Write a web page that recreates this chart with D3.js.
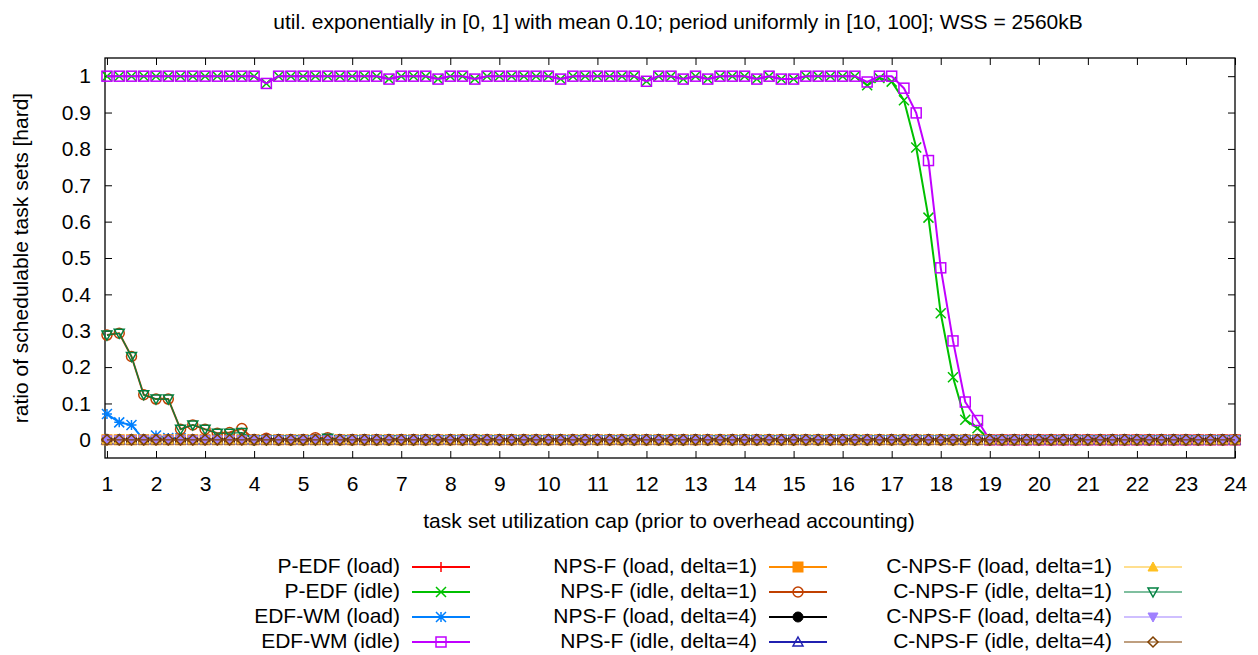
<!DOCTYPE html>
<html><head><meta charset="utf-8">
<script src="https://cdn.jsdelivr.net/npm/d3@7"></script>
<style>
html,body{margin:0;padding:0;background:#fff;}
svg text{font-family:"Liberation Sans",Arial,Helvetica,sans-serif;fill:#000;}
</style></head>
<body>
<svg id="chart" width="1258" height="655"></svg>
<script>
const titleText = "util. exponentially in [0, 1] with mean 0.10; period uniformly in [10, 100]; WSS = 2560kB";
const xLabel = "task set utilization cap (prior to overhead accounting)";
const yLabel = "ratio of schedulable task sets [hard]";
const xTicks = [1,2,3,4,5,6,7,8,9,10,11,12,13,14,15,16,17,18,19,20,21,22,23,24];
const yTicks = [0,0.1,0.2,0.3,0.4,0.5,0.6,0.7,0.8,0.9,1];
const yTickLabels = ["0","0.1","0.2","0.3","0.4","0.5","0.6","0.7","0.8","0.9","1"];

const utilCap = [1,1.25,1.5,1.75,2,2.25,2.5,2.75,3,3.25,3.5,3.75,4,4.25,4.5,4.75,5,5.25,5.5,5.75,
6,6.25,6.5,6.75,7,7.25,7.5,7.75,8,8.25,8.5,8.75,9,9.25,9.5,9.75,10,10.25,10.5,10.75,
11,11.25,11.5,11.75,12,12.25,12.5,12.75,13,13.25,13.5,13.75,14,14.25,14.5,14.75,15,15.25,15.5,15.75,
16,16.25,16.5,16.75,17,17.25,17.5,17.75,18,18.25,18.5,18.75,19,19.25,19.5,19.75,20,20.25,20.5,20.75,
21,21.25,21.5,21.75,22,22.25,22.5,22.75,23,23.25,23.5,23.75,24];

const pedfLoad = [0,0,0,0,0,0,0,0,0,0, 0,0,0,0,0,0,0,0,0,0, 0,0,0,0,0,0,0,0,0,0, 0,0,0,0,0,0,0,0,0,0,
0,0,0,0,0,0,0,0,0,0, 0,0,0,0,0,0,0,0,0,0, 0,0,0,0,0,0,0,0,0,0, 0,0,0,0,0,0,0,0,0,0, 0,0,0,0,0,0,0,0,0,0, 0,0,0];
const pedfIdle = [1,1,1,1,1,1,1,1,1,1, 1,1,1,0.98,1,1,1,1,1,1, 1,1,1,0.992,1,1,1,0.992,1,1,
0.992,1,1,1,1,1,1,0.992,1,1, 1,1,1,1,0.986,1,1,0.992,1,0.992, 1,1,1,0.992,1,0.992,0.992,1,1,1,
1,1,0.975,0.995,0.985,0.934,0.804,0.611,0.348,0.172, 0.055,0.032,0,0,0,0,0,0,0,0, 0,0,0,0,0,0,0,0,0,0, 0,0,0];
const edfwmLoad = [0.071,0.048,0.041,0,0.012,0.005,0.005,0,0,0, 0,0,0,0,0,0,0,0,0,0, 0,0,0,0,0,0,0,0,0,0, 0,0,0,0,0,0,0,0,0,0,
0,0,0,0,0,0,0,0,0,0, 0,0,0,0,0,0,0,0,0,0, 0,0,0,0,0,0,0,0,0,0, 0,0,0,0,0,0,0,0,0,0, 0,0,0,0,0,0,0,0,0,0, 0,0,0];
const edfwmIdle = [1,1,1,1,1,1,1,1,1,1, 1,1,1,0.98,1,1,1,1,1,1, 1,1,1,0.992,1,1,1,0.992,1,1,
0.992,1,1,1,1,1,1,0.992,1,1, 1,1,1,1,0.986,1,1,0.992,1,0.992, 1,1,1,0.992,1,0.992,0.992,1,1,1,
1,1,0.984,1,1,0.967,0.899,0.768,0.473,0.272, 0.104,0.053,0,0,0,0,0,0,0,0, 0,0,0,0,0,0,0,0,0,0, 0,0,0];
const npsfLoadD1 = [0,0,0,0,0,0,0,0,0,0, 0,0,0,0,0,0,0,0,0,0, 0,0,0,0,0,0,0,0,0,0, 0,0,0,0,0,0,0,0,0,0,
0,0,0,0,0,0,0,0,0,0, 0,0,0,0,0,0,0,0,0,0, 0,0,0,0,0,0,0,0,0,0, 0,0,0,0,0,0,0,0,0,0, 0,0,0,0,0,0,0,0,0,0, 0,0,0];
const npsfIdleD1 = [0.288,0.293,0.229,0.124,0.112,0.112,0.029,0.041,0.029,0.018, 0.02,0.031,0,0.004,0,0,0,0.006,0.006,0,
0,0,0,0,0,0,0,0,0,0, 0,0,0,0,0,0,0,0,0,0, 0,0,0,0,0,0,0,0,0,0, 0,0,0,0,0,0,0,0,0,0,
0,0,0,0,0,0,0,0,0,0, 0,0,0,0,0,0,0,0,0,0, 0,0,0,0,0,0,0,0,0,0, 0,0,0];
const npsfLoadD4 = [0,0,0,0,0,0,0,0,0,0, 0,0,0,0,0,0,0,0,0,0, 0,0,0,0,0,0,0,0,0,0, 0,0,0,0,0,0,0,0,0,0,
0,0,0,0,0,0,0,0,0,0, 0,0,0,0,0,0,0,0,0,0, 0,0,0,0,0,0,0,0,0,0, 0,0,0,0,0,0,0,0,0,0, 0,0,0,0,0,0,0,0,0,0, 0,0,0];
const npsfIdleD4 = [0,0,0,0,0,0,0,0,0,0, 0,0,0,0,0,0,0,0,0,0, 0,0,0,0,0,0,0,0,0,0, 0,0,0,0,0,0,0,0,0,0,
0,0,0,0,0,0,0,0,0,0, 0,0,0,0,0,0,0,0,0,0, 0,0,0,0,0,0,0,0,0,0, 0,0,0,0,0,0,0,0,0,0, 0,0,0,0,0,0,0,0,0,0, 0,0,0];
const cnpsfLoadD1 = [0,0,0,0,0,0,0,0,0,0, 0,0,0,0,0,0,0,0,0,0, 0,0,0,0,0,0,0,0,0,0, 0,0,0,0,0,0,0,0,0,0,
0,0,0,0,0,0,0,0,0,0, 0,0,0,0,0,0,0,0,0,0, 0,0,0,0,0,0,0,0,0,0, 0,0,0,0,0,0,0,0,0,0, 0,0,0,0,0,0,0,0,0,0, 0,0,0];
const cnpsfIdleD1 = [0.288,0.293,0.229,0.124,0.112,0.112,0.029,0.041,0.029,0.018, 0.018,0.02,0,0,0,0,0,0,0.004,0,
0,0,0,0,0,0,0,0,0,0, 0,0,0,0,0,0,0,0,0,0, 0,0,0,0,0,0,0,0,0,0, 0,0,0,0,0,0,0,0,0,0,
0,0,0,0,0,0,0,0,0,0, 0,0,0,0,0,0,0,0,0,0, 0,0,0,0,0,0,0,0,0,0, 0,0,0];
const cnpsfLoadD4 = [0,0,0,0,0,0,0,0,0,0, 0,0,0,0,0,0,0,0,0,0, 0,0,0,0,0,0,0,0,0,0, 0,0,0,0,0,0,0,0,0,0,
0,0,0,0,0,0,0,0,0,0, 0,0,0,0,0,0,0,0,0,0, 0,0,0,0,0,0,0,0,0,0, 0,0,0,0,0,0,0,0,0,0, 0,0,0,0,0,0,0,0,0,0, 0,0,0];
const cnpsfIdleD4 = [0,0,0,0,0,0,0,0,0,0, 0,0,0,0,0,0,0,0,0,0, 0,0,0,0,0,0,0,0,0,0, 0,0,0,0,0,0,0,0,0,0,
0,0,0,0,0,0,0,0,0,0, 0,0,0,0,0,0,0,0,0,0, 0,0,0,0,0,0,0,0,0,0, 0,0,0,0,0,0,0,0,0,0, 0,0,0,0,0,0,0,0,0,0, 0,0,0];

const seriesNames = ["P-EDF (load)","P-EDF (idle)","EDF-WM (load)","EDF-WM (idle)",
"NPS-F (load, delta=1)","NPS-F (idle, delta=1)","NPS-F (load, delta=4)","NPS-F (idle, delta=4)",
"C-NPS-F (load, delta=1)","C-NPS-F (idle, delta=1)","C-NPS-F (load, delta=4)","C-NPS-F (idle, delta=4)"];
const seriesValues = [pedfLoad,pedfIdle,edfwmLoad,edfwmIdle,npsfLoadD1,npsfIdleD1,npsfLoadD4,npsfIdleD4,
cnpsfLoadD1,cnpsfIdleD1,cnpsfLoadD4,cnpsfIdleD4];
const seriesColors = ["#ff0000","#00c000","#0080ff","#c000ff","#ff8c00","#c04000","#000000","#2020b0",
"#ffc020","#008040","#a080ff","#804000"];
const seriesMarkers = ["plus","cross","star","square","fsquare","circle","fcircle","triangle",
"ftriangle","itriangle","fitriangle","diamond"];
const seriesWidths = [2,2,2,2,2,2,2,2,1.2,1.2,1.2,1.2];

const W = 1258, H = 655;
const M = {left:105, right:1235, top:58, bottom:458};
const svg = d3.select("#chart");
const x = d3.scaleLinear().domain([0.96,24]).range([M.left,M.right]);
const y = d3.scaleLinear().domain([-0.05,1.05]).range([M.bottom,M.top]);
const FS = 21;

// title and labels
svg.append("text").attr("x",678).attr("y",23).attr("text-anchor","middle")
  .attr("dominant-baseline","middle").style("font-size",FS+"px").text(titleText);
svg.append("text").attr("x",669).attr("y",522).attr("text-anchor","middle")
  .attr("dominant-baseline","middle").style("font-size",FS+"px").text(xLabel);
svg.append("text").attr("transform",`translate(22,${(M.top+M.bottom)/2}) rotate(-90)`)
  .attr("text-anchor","middle").attr("dominant-baseline","middle").style("font-size",FS+"px").text(yLabel);

// axes (gnuplot style inward ticks with mirror)
const TL = 7;
const xAxisB = d3.axisBottom(x).tickValues(xTicks).tickSizeInner(-TL).tickSizeOuter(0).tickPadding(18).tickFormat(d3.format("d"));
const gx = svg.append("g").attr("transform",`translate(0,${M.bottom})`).call(xAxisB);
const xAxisT = d3.axisTop(x).tickValues(xTicks).tickSizeInner(-TL).tickSizeOuter(0).tickFormat("");
const gxt = svg.append("g").attr("transform",`translate(0,${M.top})`).call(xAxisT);
const yAxisL = d3.axisLeft(y).tickValues(yTicks).tickSizeInner(-TL).tickSizeOuter(0).tickPadding(14)
  .tickFormat((d,i)=>yTickLabels[i]);
const gy = svg.append("g").attr("transform",`translate(${M.left},0)`).call(yAxisL);
const yAxisR = d3.axisRight(y).tickValues(yTicks).tickSizeInner(-TL).tickSizeOuter(0).tickFormat("");
const gyr = svg.append("g").attr("transform",`translate(${M.right},0)`).call(yAxisR);
[gx,gxt,gy,gyr].forEach(g=>{
  g.select(".domain").remove();
  g.selectAll(".tick line").attr("stroke","#000").attr("stroke-width",1);
  g.selectAll(".tick text").style("font-size",FS+"px").style("font-family",'"Liberation Sans",Arial,sans-serif').attr("fill","#000");
});
svg.append("rect").attr("x",M.left).attr("y",M.top).attr("width",M.right-M.left).attr("height",M.bottom-M.top)
  .attr("fill","none").attr("stroke","#000").attr("stroke-width",1.3);

// marker drawing
function drawMarker(g, type, cx, cy, color){
  const s = 5;
  const sw = 1.5;
  switch(type){
    case "plus":
      g.append("path").attr("d",`M${cx-s},${cy}H${cx+s}M${cx},${cy-s}V${cy+s}`).attr("stroke",color).attr("stroke-width",sw).attr("fill","none"); break;
    case "cross":
      g.append("path").attr("d",`M${cx-s},${cy-s}L${cx+s},${cy+s}M${cx-s},${cy+s}L${cx+s},${cy-s}`).attr("stroke",color).attr("stroke-width",sw).attr("fill","none"); break;
    case "star":
      g.append("path").attr("d",`M${cx-s},${cy}H${cx+s}M${cx},${cy-s}V${cy+s}M${cx-s},${cy-s}L${cx+s},${cy+s}M${cx-s},${cy+s}L${cx+s},${cy-s}`).attr("stroke",color).attr("stroke-width",sw).attr("fill","none"); break;
    case "square":
      g.append("rect").attr("x",cx-s).attr("y",cy-s).attr("width",2*s).attr("height",2*s).attr("stroke",color).attr("stroke-width",sw).attr("fill","none"); break;
    case "fsquare":
      g.append("rect").attr("x",cx-s).attr("y",cy-s).attr("width",2*s).attr("height",2*s).attr("stroke",color).attr("stroke-width",1).attr("fill",color); break;
    case "circle":
      g.append("circle").attr("cx",cx).attr("cy",cy).attr("r",s).attr("stroke",color).attr("stroke-width",sw).attr("fill","none"); break;
    case "fcircle":
      g.append("circle").attr("cx",cx).attr("cy",cy).attr("r",s).attr("stroke",color).attr("stroke-width",1).attr("fill",color); break;
    case "triangle":
      g.append("path").attr("d",`M${cx},${cy-s}L${cx+s},${cy+s*0.8}L${cx-s},${cy+s*0.8}Z`).attr("stroke",color).attr("stroke-width",sw).attr("fill","none"); break;
    case "ftriangle":
      g.append("path").attr("d",`M${cx},${cy-s}L${cx+s},${cy+s*0.8}L${cx-s},${cy+s*0.8}Z`).attr("stroke",color).attr("stroke-width",1).attr("fill",color); break;
    case "itriangle":
      g.append("path").attr("d",`M${cx},${cy+s}L${cx+s},${cy-s*0.8}L${cx-s},${cy-s*0.8}Z`).attr("stroke",color).attr("stroke-width",sw).attr("fill","none"); break;
    case "fitriangle":
      g.append("path").attr("d",`M${cx},${cy+s}L${cx+s},${cy-s*0.8}L${cx-s},${cy-s*0.8}Z`).attr("stroke",color).attr("stroke-width",1).attr("fill",color); break;
    case "diamond":
      g.append("path").attr("d",`M${cx},${cy-s}L${cx+s},${cy}L${cx},${cy+s}L${cx-s},${cy}Z`).attr("stroke",color).attr("stroke-width",sw).attr("fill","none"); break;
  }
}

// series
const line = d3.line().x(d=>x(d[0])).y(d=>y(d[1]));
seriesValues.forEach((vals,si)=>{
  const pts = utilCap.map((u,i)=>[u,vals[i]]);
  const g = svg.append("g").attr("class","series");
  g.append("path").datum(pts).attr("d",line).attr("fill","none")
    .attr("stroke",seriesColors[si]).attr("stroke-width",seriesWidths[si]).attr("stroke-linejoin","round");
  pts.forEach(p=>drawMarker(g,seriesMarkers[si],x(p[0]),y(p[1]),seriesColors[si]));
});

// legend
const colTextX = [400,757,1112];
const rowY = [567,592,617,642];
seriesNames.forEach((name,si)=>{
  const col = Math.floor(si/4), row = si%4;
  const tx = colTextX[col], ty = rowY[row];
  const g = svg.append("g").attr("class","legend");
  g.append("text").attr("x",tx).attr("y",ty).attr("text-anchor","end").attr("dominant-baseline","middle")
    .style("font-size",FS+"px").text(name);
  const x0 = tx+12, x1 = tx+70;
  g.append("line").attr("x1",x0).attr("x2",x1).attr("y1",ty).attr("y2",ty)
    .attr("stroke",seriesColors[si]).attr("stroke-width",seriesWidths[si]);
  drawMarker(g,seriesMarkers[si],(x0+x1)/2,ty,seriesColors[si]);
});
</script>
</body></html>
